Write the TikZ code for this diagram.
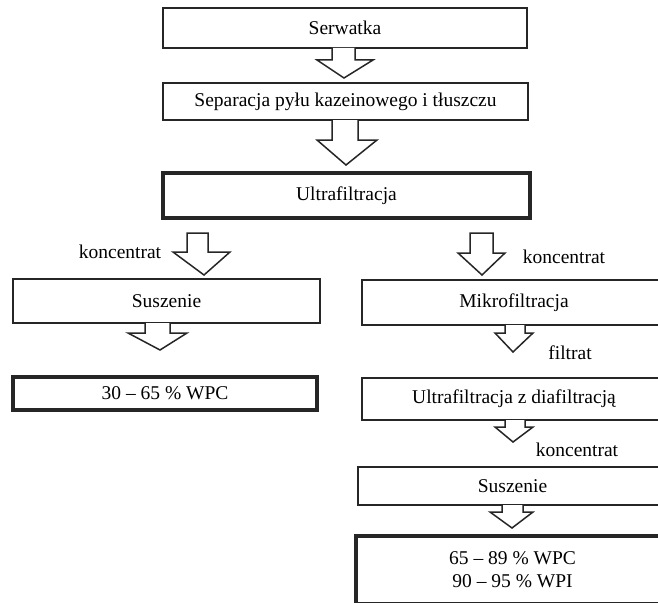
\documentclass[tikz,border=0pt]{standalone}
\usepackage{fontspec}
\setmainfont{Liberation Serif}
\begin{document}
\begin{tikzpicture}[x=1pt,y=-1pt,
  box/.style={draw=black!85,line width=1.5pt,inner sep=0pt,align=center,font=\fontsize{19.5}{22}\selectfont},
  thickbox/.style={box,line width=3.2pt},
  lbl/.style={inner sep=0pt,font=\fontsize{19.5}{22}\selectfont},
  barrow/.style={draw=black!85,line width=1.5pt,line join=miter,fill=white}]
\useasboundingbox (0,0) rectangle (658,602);
\clip (0,0) rectangle (658,602);
% main column
\node[box,minimum width=364pt,minimum height=40pt] (B1) at (345,28) {Serwatka};
\node[box,minimum width=365pt,minimum height=37pt] (B2) at (345.5,101.5) {Separacja pyłu kazeinowego i tłuszczu};
\node[thickbox,minimum width=367pt,minimum height=45pt] (B3) at (346.5,195.5) {Ultrafiltracja};
% left branch
\node[box,minimum width=307pt,minimum height=44pt] (L1) at (166.5,301) {Suszenie};
\node[thickbox,minimum width=304pt,minimum height=33pt] (L2) at (165,393.5) {30 – 65 \% WPC};
% right branch
\node[box,minimum width=304pt,minimum height=45pt] (R1) at (514,302.5) {Mikrofiltracja};
\node[box,minimum width=304pt,minimum height=42pt] (R2) at (514,399) {Ultrafiltracja z diafiltracją};
\node[box,minimum width=309pt,minimum height=38pt] (R3) at (512.5,486) {Suszenie};
\node[thickbox,minimum width=313pt,minimum height=68pt] (R4) at (512.5,570) {65 – 89 \% WPC\\[1pt]90 – 95 \% WPI};
% block arrows
\draw[barrow] (332,48) -- (332,60) -- (317,60) -- (344,78) -- (373,60) -- (355,60) -- (355,48);
\draw[barrow] (332,120) -- (332,140) -- (317,140) -- (346,165) -- (377,140) -- (358,140) -- (358,120);
\draw[barrow] (187,233) -- (187,252) -- (173,252) -- (204,275) -- (230,252) -- (208,252) -- (208,233) -- cycle;
\draw[barrow] (145,323) -- (145,333) -- (128,333) -- (160,350) -- (187,333) -- (170,333) -- (170,323);
\draw[barrow] (470,233) -- (470,253) -- (458,253) -- (482,275) -- (505,253) -- (493,253) -- (493,233) -- cycle;
\draw[barrow] (505,325) -- (505,333) -- (495,333) -- (513,352) -- (533,333) -- (525,333) -- (525,325);
\draw[barrow] (505,420) -- (505,427) -- (495,427) -- (513,442) -- (533,427) -- (525,427) -- (525,420);
\draw[barrow] (502,505) -- (502,512) -- (490,512) -- (512,528) -- (533,512) -- (523,512) -- (523,505);
% labels
\node[lbl] (k1) at (120,252) {koncentrat};
\node[lbl] (k2) at (564,257) {koncentrat};
\node[lbl] (f1) at (570,353) {filtrat};
\node[lbl] (k3) at (577,450) {koncentrat};
\end{tikzpicture}
\end{document}
